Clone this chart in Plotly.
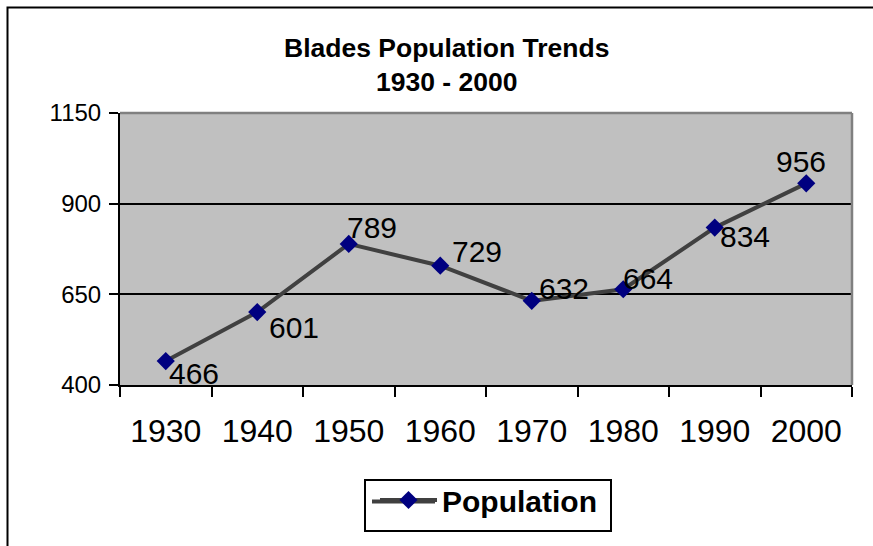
import plotly.graph_objects as go

# ---- data ----
years = ["1930", "1940", "1950", "1960", "1970", "1980", "1990", "2000"]
population = [466, 601, 789, 729, 632, 664, 834, 956]
y_ticks = [400, 650, 900, 1150]
title_lines = ["Blades Population Trends", "1930 - 2000"]
series_name = "Population"

# ---- label placement offsets (pixels, style only) ----
label_dx = [1, 10, -4, 10, 5, -2, 3, -32]
label_dy = [12, 15, -16, -14, -12, -11, 9, -22]

FONT = "Liberation Sans, Arial, sans-serif"
W, H = 873, 546
L, R, T, B = 120, 21, 113, 161
PW, PH = W - L - R, H - T - B


def px(x):
    return (x - L) / PW


def py(y):
    return (H - B - y) / PH


fig = go.Figure()
fig.add_trace(go.Scatter(
    x=years, y=population, mode="lines+markers", name=series_name,
    line=dict(color="#404040", width=4),
    marker=dict(symbol="diamond", size=14, color="#000080",
                line=dict(width=0)),
))

annotations = []
for i, (v, dx, dy) in enumerate(zip(population, label_dx, label_dy)):
    annotations.append(dict(
        x=i, y=v, xref="x", yref="y", text=str(v), showarrow=False,
        xanchor="left", yanchor="middle", xshift=dx, yshift=-dy,
        font=dict(family=FONT, size=30, color="black")))

annotations.append(dict(x=px(446), y=py(65), xref="paper", yref="paper",
                        text="<br>".join(title_lines), showarrow=False,
                        xanchor="center", yanchor="middle", align="center",
                        font=dict(family=FONT, size=26.5, color="black",
                                  weight="bold")))

shapes = [
    # outer chart border (extends past the picture to right and bottom)
    dict(type="rect", xref="paper", yref="paper",
         x0=px(7.5), x1=px(900), y0=py(600), y1=py(7.5),
         line=dict(color="black", width=2), layer="below"),
    # grey top and right edges of plot area
    dict(type="line", xref="paper", yref="paper", x0=0, x1=1, y0=1, y1=1,
         line=dict(color="#808080", width=2.5), layer="above"),
    dict(type="line", xref="paper", yref="paper", x0=1, x1=1, y0=0, y1=1,
         line=dict(color="#808080", width=2.5), layer="above"),
    # legend frame and long legend line sample
    dict(type="rect", xref="paper", yref="paper",
         x0=px(365), x1=px(611), y0=py(531), y1=py(480),
         line=dict(color="black", width=2), fillcolor="white", layer="above"),
    dict(type="line", xref="paper", yref="paper",
         x0=px(372), x1=px(435), y0=py(501.5), y1=py(501.5),
         line=dict(color="#404040", width=4), layer="above"),
]

fig.update_layout(
    width=W, height=H,
    margin=dict(l=L, r=R, t=T, b=B, pad=0),
    paper_bgcolor="white", plot_bgcolor="#c0c0c0",
    font=dict(family=FONT, color="black"),
    showlegend=True,
    legend=dict(orientation="h", x=px(375), xanchor="left",
                y=py(474), yanchor="top",
                bgcolor="rgba(0,0,0,0)", borderwidth=0,
                font=dict(family=FONT, size=30, color="black", weight="bold"),
                itemwidth=57),
    annotations=annotations,
    shapes=shapes,
)

fig.update_xaxes(
    type="category", range=[-0.5, len(years) - 0.5],
    tickson="boundaries", ticks="outside", ticklen=10, tickwidth=2,
    tickcolor="black", showline=True, linecolor="black", linewidth=2,
    showgrid=False, zeroline=False,
    tickfont=dict(family=FONT, size=32, color="black"),
    ticklabelstandoff=17,
)
fig.update_yaxes(
    range=[y_ticks[0], y_ticks[-1]], tickvals=y_ticks,
    ticks="outside", ticklen=9, tickwidth=2, tickcolor="black",
    showline=True, linecolor="black", linewidth=2,
    showgrid=True, gridcolor="black", gridwidth=2, zeroline=False,
    tickfont=dict(family=FONT, size=24, color="black"),
    ticklabelstandoff=3,
)

fig.write_html("out.html",
               config={"displayModeBar": False},
               post_script="document.body.style.margin='0';")
